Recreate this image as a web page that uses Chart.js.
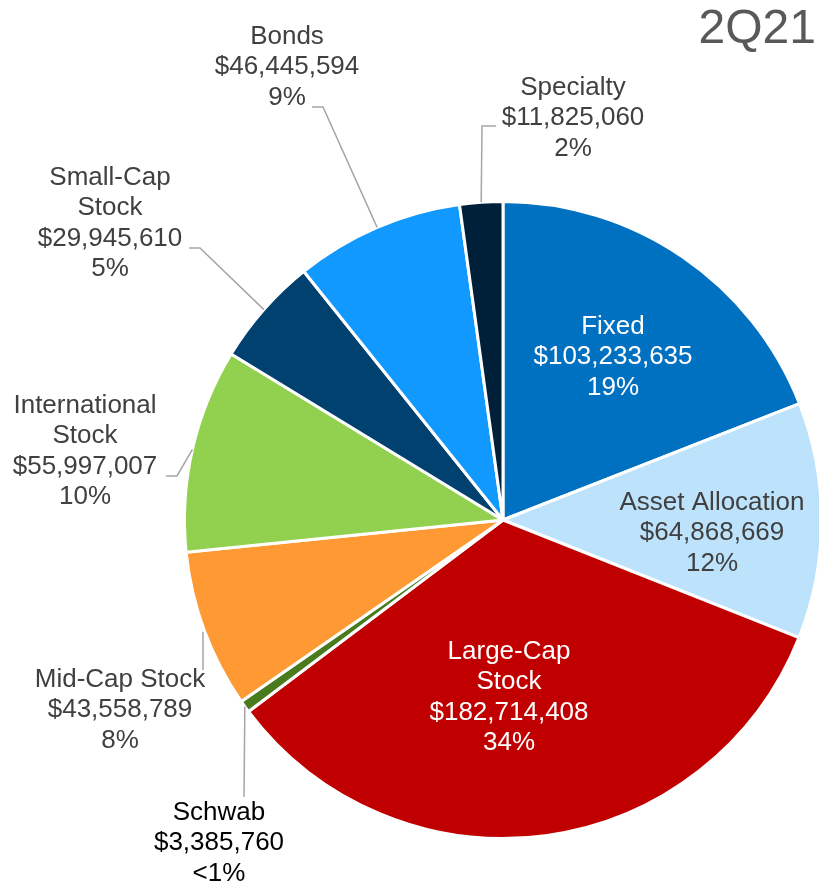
<!DOCTYPE html>
<html>
<head>
<meta charset="utf-8">
<script src="https://cdn.jsdelivr.net/npm/chart.js@4"></script>
<style>
  html, body { margin: 0; background: #fff; overflow: hidden; }
  canvas { display: block; }
</style>
</head>
<body>
<canvas id="pie" width="823" height="888"></canvas>
<script>
// 2Q21 assets by category (clockwise from 12 o'clock)
var categories = ['Fixed', 'Asset Allocation', 'Large-Cap Stock', 'Schwab', 'Mid-Cap Stock',
                  'International Stock', 'Small-Cap Stock', 'Bonds', 'Specialty'];
var amounts = [103233635, 64868669, 182714408, 3385760, 43558789, 55997007, 29945610, 46445594, 11825060];
var pctLabels = ['19%', '12%', '34%', '<1%', '8%', '10%', '5%', '9%', '2%'];
var title = '2Q21';

var sliceColors = ['#0070C0', '#BDE3FC', '#C00000', '#4A7A1E', '#FF9933',
                   '#92D050', '#00416F', '#1199FF', '#00203A'];

// label layout: text block offsets from pie centre (dx = centre of text, dy = first line),
// line breaks, colour and leader-line points (also relative to the centre)
var labelLayout = [
  { lines: ['Fixed'], dx: 110, dy: -193, color: '#FFFFFF' },
  { lines: ['Asset Allocation'], dx: 209, dy: -17, color: '#404040' },
  { lines: ['Large-Cap', 'Stock'], dx: 6, dy: 132, color: '#FFFFFF' },
  { lines: ['Schwab'], dx: -284, dy: 293, color: '#000000', leader: ['arc', [-259, 277]] },
  { lines: ['Mid-Cap Stock'], dx: -383, dy: 160, color: '#404040', leader: [[-300, 112], [-300, 150]] },
  { lines: ['International', 'Stock'], dx: -418, dy: -114, color: '#404040', leader: ['arc', [-326, -44], [-337, -44]] },
  { lines: ['Small-Cap', 'Stock'], dx: -393, dy: -342, color: '#404040', leader: ['arc', [-303, -272], [-314, -272]] },
  { lines: ['Bonds'], dx: -216, dy: -483, color: '#404040', leader: ['arc', [-180, -413], [-191, -413]] },
  { lines: ['Specialty'], dx: 70, dy: -432, color: '#404040', leader: ['arc', [-21, -394], [-7, -394]] }
];

function money(v) {
  return '$' + v.toString().replace(/\B(?=(\d{3})+(?!\d))/g, ',');
}

var sliceLabels = {
  id: 'sliceLabels',
  afterDatasetsDraw: function(chart) {
    var ctx = chart.ctx;
    var arcs = chart.getDatasetMeta(0).data;
    ctx.save();
    ctx.font = '26px "Liberation Sans", Arial, sans-serif';
    ctx.textAlign = 'center';
    ctx.textBaseline = 'middle';
    arcs.forEach(function(arc, i) {
      var cx = arc.x, cy = arc.y;
      var lay = labelLayout[i];
      if (lay.leader) {
        var mid = (arc.startAngle + arc.endAngle) / 2;
        ctx.beginPath();
        lay.leader.forEach(function(p, k) {
          var px, py;
          if (p === 'arc') {
            px = cx + Math.cos(mid) * arc.outerRadius;
            py = cy + Math.sin(mid) * arc.outerRadius;
          } else {
            px = cx + p[0];
            py = cy + p[1];
          }
          if (k === 0) ctx.moveTo(px, py); else ctx.lineTo(px, py);
        });
        ctx.strokeStyle = '#A6A6A6';
        ctx.lineWidth = 1.5;
        ctx.stroke();
      }
      var lines = lay.lines.concat([money(amounts[i]), pctLabels[i]]);
      ctx.fillStyle = lay.color;
      lines.forEach(function(t, k) {
        ctx.fillText(t, cx + lay.dx, cy + lay.dy + k * 30.3);
      });
    });
    // period title
    ctx.font = '48px "Liberation Sans", Arial, sans-serif';
    ctx.textAlign = 'right';
    ctx.fillStyle = '#595959';
    ctx.fillText(title, 816, 30);
    ctx.restore();
  }
};

var chart = new Chart(document.getElementById('pie'), {
  type: 'pie',
  data: {
    labels: categories,
    datasets: [{
      data: amounts,
      backgroundColor: sliceColors,
      borderColor: '#FFFFFF',
      borderWidth: 3
    }]
  },
  options: {
    responsive: false,
    animation: false,
    layout: { padding: { left: 183, right: 0, top: 200, bottom: 48 } },
    plugins: {
      legend: { display: false },
      tooltip: { enabled: false }
    }
  },
  plugins: [sliceLabels]
});
</script>
</body>
</html>
